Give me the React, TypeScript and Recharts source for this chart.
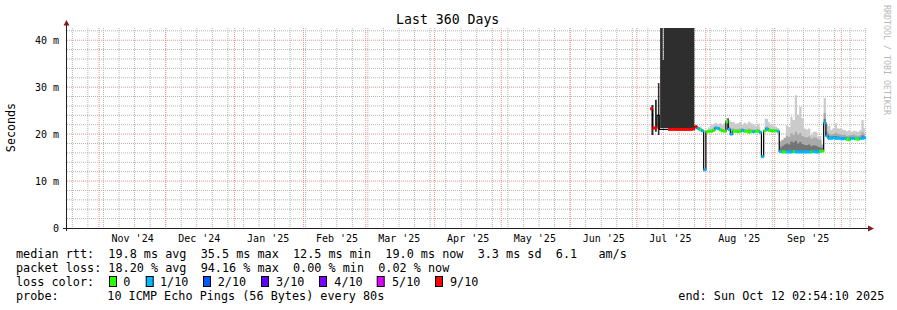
import React from 'react';
import { ComposedChart, XAxis, YAxis, Area, Line, Scatter, CartesianGrid } from 'recharts';

const W = 897;
const H = 310;
const MONO = '"DejaVu Sans Mono", monospace';
const N = null;

// x axis: days since the start of the 360-day window (ends Sun Oct 12 02:54:10 2025)
const monthStartDays = [14.43, 44.43, 75.43, 106.43, 134.43, 165.43, 195.43, 226.43, 256.43, 287.43, 318.43, 348.43];
const monthLabelDays = [29.53, 59.53, 90.53, 121.53, 149.53, 180.53, 210.53, 241.53, 271.53, 302.53, 333.53];
const monthLabels = ["Nov '24", "Dec '24", "Jan '25", "Feb '25", "Mar '25", "Apr '25", "May '25", "Jun '25", "Jul '25", "Aug '25", "Sep '25"];
const weekDays = [2.4, 9.4, 16.4, 23.4, 30.4, 37.4, 44.4, 51.4, 58.4, 65.4, 72.4, 79.4, 86.4, 93.4, 100.4, 107.4, 114.4, 121.4, 128.4, 135.4, 142.4, 149.4, 156.4, 163.4, 170.4, 177.4, 184.4, 191.4, 198.4, 205.4, 212.4, 219.4, 226.4, 233.4, 240.4, 247.4, 254.4, 261.4, 268.4, 275.4, 282.4, 289.4, 296.4, 303.4, 310.4, 317.4, 324.4, 331.4, 338.4, 345.4, 352.4, 359.4];
const yMajor = [10, 20, 30, 40];
const yMinor = [2, 4, 6, 8, 12, 14, 16, 18, 22, 24, 26, 28, 32, 34, 36, 38, 42];
const yTicks = [0, 10, 20, 30, 40];

// per-day samples (day 263 .. 359)
const days = [
  263, 264, 265, 266, 267, 268, 269, 270, 271, 272,
  273, 274, 275, 276, 277, 278, 279, 280, 281, 282,
  283, 284, 285, 286, 287, 288, 289, 290, 291, 292,
  293, 294, 295, 296, 297, 298, 299, 300, 301, 302,
  303, 304, 305, 306, 307, 308, 309, 310, 311, 312,
  313, 314, 315, 316, 317, 318, 319, 320, 321, 322,
  323, 324, 325, 326, 327, 328, 329, 330, 331, 332,
  333, 334, 335, 336, 337, 338, 339, 340, 341, 342,
  343, 344, 345, 346, 347, 348, 349, 350, 351, 352,
  353, 354, 355, 356, 357, 358, 359,
];
// median rtt in ms
const medianMs = [
  25.4, 21.3, 21.3, 24.0, 21.0, 21.0, 21.0, 21.0, 21.0, 21.0,
  21.0, 21.0, 21.0, 21.0, 21.0, 21.0, 21.0, 21.0, 21.0, 21.1,
  21.6, 21.2, 20.9, 20.7, 12.4, 20.5, 20.6, 20.6, 20.8, 21.3,
  21.2, 20.9, 20.7, 20.6, 22.6, 21.0, 20.0, 20.6, 20.6, 20.5,
  20.6, 20.8, 20.6, 20.6, 20.4, 20.6, 20.5, 20.6, 20.6, 20.4,
  15.2, 20.7, 21.1, 20.8, 20.7, 20.7, 20.7, 20.6, 16.3, 16.2,
  16.2, 16.2, 16.2, 16.2, 16.3, 16.2, 16.2, 16.2, 16.2, 16.2,
  16.2, 16.2, 16.2, 16.3, 16.2, 16.2, 16.3, 16.4, 22.4, 19.6,
  19.1, 19.1, 19.2, 19.1, 19.1, 19.1, 19.0, 19.1, 18.9, 18.8,
  19.1, 19.1, 19.0, 18.9, 19.1, 19.1, 19.2,
];
// packet loss in tenths (-1 = median hidden behind smoke)
const lossTenths = [
  9, 9, 9, -1, -1, -1, -1, -1, 9, 9,
  9, 9, 9, 9, 9, 9, 9, 9, 9, 9,
  9, 1, 0, 1, 1, 0, 0, 0, 0, 1,
  1, 0, 0, 0, 0, 1, 1, 0, 0, 0,
  0, 1, 0, 0, 0, 0, 1, 0, 0, 1,
  1, 0, 1, 0, 0, 0, 0, 1, 1, 0,
  0, 1, 1, 1, 0, 1, 1, 1, 1, 1,
  1, 1, 0, 1, 1, 1, 0, 0, 1, 1,
  1, 1, 1, 1, 1, 1, 1, 1, 0, 0,
  1, 1, 0, 0, 1, 1, 1,
];
// smoke (ping spread) tops, ms
const lightTop = [
  N, N, N, N, N, N, N, N, N, N,
  N, N, N, N, N, N, N, N, N, N,
  22.0, 21.6, 21.6, 21.3, N, 21.0, 21.4, 21.9, 22.2, 22.4,
  22.1, 22.3, 22.0, 22.3, 23.4, 23.0, 22.6, 22.5, 22.2, 22.3,
  22.6, 22.0, 22.4, 22.2, 22.7, 22.3, 22.0, 21.8, 22.2, 21.6,
  N, 23.4, 23.2, 22.5, 22.0, 21.8, 21.6, 21.3, 17.8, 18.2,
  19.0, 21.9, 21.5, 23.7, 23.0, 28.3, 24.1, 25.8, 23.4, 21.2,
  21.0, 21.2, 19.8, 20.5, 20.5, 19.5, 19.6, 17.5, 27.7, 22.0,
  21.7, 20.9, 21.3, 22.3, 21.2, 21.2, 21.0, 20.9, 20.6, 20.8,
  20.5, 20.7, 20.6, 20.5, 20.8, 23.0, 21.3,
];
const midTop = [
  N, N, N, N, N, N, N, N, N, N,
  N, N, N, N, N, N, N, N, N, N,
  21.8, 21.4, 21.2, 21.0, N, 20.8, 20.9, 21.0, 21.2, 21.6,
  21.5, 21.3, 21.1, 21.0, 22.8, 21.6, 21.2, 21.2, 21.0, 21.1,
  21.2, 21.2, 21.1, 21.0, 21.2, 21.0, 21.0, 21.0, 21.1, 20.8,
  N, 21.5, 21.6, 21.2, 21.1, 21.0, 21.0, 20.9, 18.5, 18.8,
  19.2, 19.6, 19.4, 20.2, 19.8, 20.5, 19.9, 20.2, 19.6, 19.4,
  19.3, 19.5, 19.0, 19.3, 19.2, 18.9, 18.8, 17.8, 24.5, 20.6,
  20.2, 19.9, 20.0, 20.3, 20.0, 19.9, 19.8, 19.9, 19.6, 19.7,
  19.8, 19.9, 19.7, 19.6, 19.8, 20.4, 20.0,
];
const deepTop = [
  N, N, N, N, N, N, N, N, N, N,
  N, N, N, N, N, N, N, N, N, N,
  N, N, N, N, N, N, N, N, N, N,
  N, N, N, N, N, N, N, N, N, N,
  N, N, N, N, N, N, N, N, N, N,
  N, N, N, N, N, N, N, N, 17.2, 17.4,
  17.8, 18.0, 17.8, 18.4, 18.2, 18.6, 18.0, 18.3, 17.9, 17.7,
  17.6, 17.8, 17.4, 17.6, 17.5, 17.3, 17.2, 17.0, 23.2, 20.0,
  19.5, 19.5, 19.6, 19.6, 19.5, 19.4, 19.4, 19.4, 19.2, 19.2,
  19.4, 19.4, 19.3, 19.2, 19.4, 19.7, 19.5,
];
// dense dark smoke (near-total loss period and spikes)
const darkDays = [263.0, 263.9, 264.2, 264.6, 265.4, 265.6, 265.9, 266.6, 266.8, 266.9, 268.1, 268.55, 282.3, 282.5, 297.2, 297.8];
const darkLo = [19.8, 19.8, N, 20.5, 20.5, N, 19.8, 19.8, N, 21.3, 21.3, 21.3, 21.3, N, 21.0, 21.0];
const darkHi = [26.2, 26.2, N, 27.3, 27.3, N, 30.9, 30.9, N, 42.6, 35.8, 42.6, 42.6, N, 23.4, 23.4];

const lossLevels = [0, 1, 2, 3, 4, 5, 9];
const lossNames = ['0', '1/10', '2/10', '3/10', '4/10', '5/10', '9/10'];
const lossColors = ['#26ff00', '#00b8ff', '#0059ff', '#5e00ff', '#7e00ff', '#dd00ff', '#ff0000'];
const legendBoxX = [109, 145.7, 203, 261, 319, 376.7, 435];
const legendTextX = [123.3, 160, 217.7, 276, 334.3, 392, 450];

const rows = days.map((day, i) => ({
  day,
  median: medianMs[i],
  loss: lossTenths[i],
  light: lightTop[i],
  mid: midTop[i],
  deep: deepTop[i],
}));
const darkRows = darkDays.map((day, i) => ({ day, lo: darkLo[i], hi: darkHi[i] }));

const band = (color: string) => (props: any) => {
  const { cx, cy } = props;
  if (cx == null || cy == null || isNaN(cx) || isNaN(cy)) return <g />;
  return <rect x={cx - 1.3} y={cy - 1.5} width={2.6} height={3} fill={color} />;
};

const rangeKey = (k: string) => (r: any) => (r[k] == null ? null : [r.median, r[k]]);

const pre: any = { whiteSpace: 'pre' };

export default function App() {
  return (
    <div style={{ position: 'absolute', left: 0, top: 0, width: W, height: H, background: '#fff' }}>
      <div style={{ position: 'absolute', left: 0, top: 0 }}>
        <ComposedChart width={W} height={H} data={rows} margin={{ top: 28, right: 30, bottom: 62, left: 0 }}>
          <CartesianGrid
            horizontalValues={yMinor}
            verticalValues={weekDays}
            stroke="#b4b4b4"
            strokeDasharray="1 1"
            fill="none"
          />
          <CartesianGrid
            horizontalValues={yMajor}
            verticalValues={monthStartDays}
            stroke="#eb8f8f"
            strokeDasharray="1 1"
            fill="none"
          />
          <XAxis
            type="number"
            dataKey="day"
            domain={[0, 360]}
            allowDataOverflow
            ticks={monthLabelDays}
            interval={0}
            tickFormatter={(v: number) => monthLabels[monthLabelDays.indexOf(v)] ?? ''}
            axisLine={false}
            tickLine={false}
            tickSize={0}
            tickMargin={6.4}
            height={20}
            tick={{ fill: '#000', fontSize: 10, fontFamily: MONO }}
          />
          <YAxis
            type="number"
            domain={[0, 42.6]}
            allowDataOverflow
            ticks={yTicks}
            interval={0}
            tickFormatter={(v: number) => (v === 0 ? '0' : `${v} m`)}
            axisLine={false}
            tickLine={false}
            width={67}
            tick={{ fill: '#000', fontSize: 10, fontFamily: MONO }}
          />
          <Area dataKey={rangeKey('light')} type="step" stroke="none" fill="#cbcbcb" fillOpacity={1} isAnimationActive={false} />
          <Area dataKey={rangeKey('mid')} type="step" stroke="none" fill="#a9a9a9" fillOpacity={1} isAnimationActive={false} />
          <Area dataKey={rangeKey('deep')} type="step" stroke="none" fill="#747474" fillOpacity={1} isAnimationActive={false} />
          <Area
            data={darkRows}
            dataKey={(r: any) => (r.hi == null ? null : [r.lo, r.hi])}
            type="stepAfter"
            stroke="none"
            fill="#2e2e2e"
            fillOpacity={1}
            isAnimationActive={false}
          />
          <Line dataKey="median" type="step" stroke="#000" strokeWidth={1.2} dot={false} activeDot={false} isAnimationActive={false} />
          {lossLevels.map((lv, i) => {
            const pts = rows.filter((r) => r.loss === lv);
            if (pts.length === 0) return null;
            return (
              <Scatter
                key={'loss' + lv}
                data={pts}
                dataKey="median"
                fill={lossColors[i]}
                shape={band(lossColors[i])}
                isAnimationActive={false}
              />
            );
          })}
        </ComposedChart>
      </div>
      <svg width={W} height={H} style={{ position: 'absolute', left: 0, top: 0, pointerEvents: 'none' }}>
        <text x={447.7} y={24} textAnchor="middle" fontFamily={MONO} fontSize={13.2} fill="#000">Last 360 Days</text>
        <text transform="translate(15,127.5) rotate(-90)" textAnchor="middle" fontFamily={MONO} fontSize={11.7} fill="#000">Seconds</text>
        <text transform="translate(884,5) rotate(90)" fontFamily={MONO} fontSize={8.3} fill="#b8b8b8">RRDTOOL / TOBI OETIKER</text>
        <line x1={66.5} y1={231} x2={66.5} y2={24} stroke="#1f1f1f" strokeWidth={1} />
        <polygon points="63.5,25.5 69.5,25.5 66.5,20" fill="#801f1f" />
        <line x1={63} y1={228.5} x2={868} y2={228.5} stroke="#1f1f1f" strokeWidth={1} />
        <polygon points="868,225.5 868,231.5 874,228.5" fill="#801f1f" />
        <g fontFamily={MONO} fontSize={11.8} fill="#000">
          <text x={16} y={258.3} xmlSpace="preserve" style={pre}>{'median rtt:  19.8 ms avg  35.5 ms max  12.5 ms min  19.0 ms now  3.3 ms sd  6.1   am/s'}</text>
          <text x={16} y={272.3} xmlSpace="preserve" style={pre}>{'packet loss: 18.20 % avg  94.16 % max  0.00 % min  0.02 % now'}</text>
          <text x={16} y={286.3}>{'loss color:'}</text>
          {lossNames.map((nm, i) => (
            <g key={nm}>
              <rect x={legendBoxX[i] + 0.5} y={276.5} width={7} height={10} fill={lossColors[i]} stroke="#000" strokeWidth={1} />
              <text x={legendTextX[i]} y={286.3}>{nm}</text>
            </g>
          ))}
          <text x={16} y={300}>{'probe:'}</text>
          <text x={107.3} y={300}>{'10 ICMP Echo Pings (56 Bytes) every 80s'}</text>
          <text x={678.3} y={300}>{'end: Sun Oct 12 02:54:10 2025'}</text>
        </g>
      </svg>
    </div>
  );
}
